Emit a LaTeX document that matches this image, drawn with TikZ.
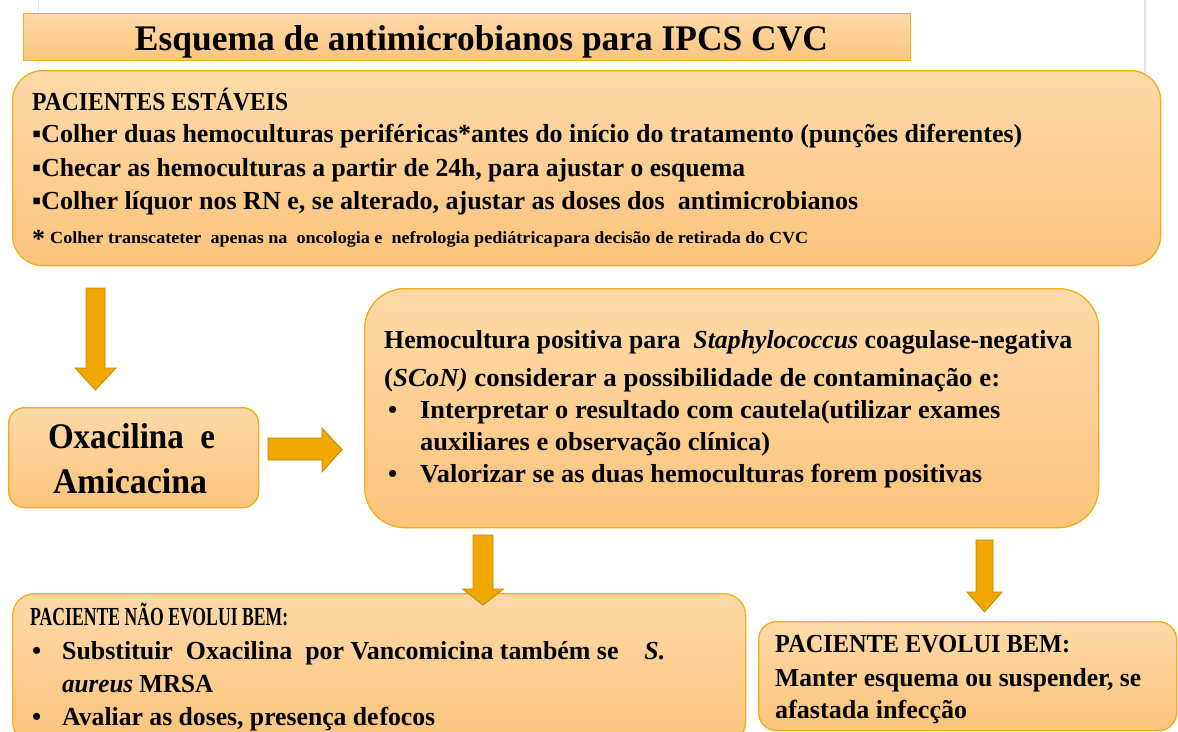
\documentclass[tikz,border=0pt]{standalone}
\usepackage{fontspec}
\setmainfont{Liberation Serif}
\definecolor{boxtop}{RGB}{253,218,168}
\definecolor{boxbot}{RGB}{251,196,124}
\definecolor{boxline}{RGB}{244,172,24}
\definecolor{arrfill}{RGB}{242,166,0}
\definecolor{arrline}{RGB}{188,136,0}
\tikzset{
  softbox/.style={draw=boxline, line width=1.3pt, top color=boxtop, bottom color=boxbot,
    anchor=north west, inner sep=0pt},
  txt/.style={anchor=base west, inner sep=0pt, font=\bfseries\fontsize{26}{30}\selectfont},
  bigtxt/.style={anchor=base, inner sep=0pt, font=\bfseries\fontsize{36}{40}\selectfont},
  smalltxt/.style={anchor=base west, inner sep=0pt, font=\bfseries\fontsize{17}{20}\selectfont},
  blockarrow/.style={draw=arrline, fill=arrfill, line width=0.8pt, line join=miter},
}
% vertical block arrow: x, ytop, ytip, shaft half, head half, head length
\newcommand{\vblock}[6]{%
  \draw[blockarrow] (#1-#4,#2) -- (#1+#4,#2) -- (#1+#4,#3-#6) -- (#1+#5,#3-#6)
    -- (#1,#3) -- (#1-#5,#3-#6) -- (#1-#4,#3-#6) -- cycle;}
\newcommand{\fw}[2]{\resizebox{#1pt}{\height}{#2}}
\begin{document}
\begin{tikzpicture}[x=1pt,y=-1pt]
\useasboundingbox (0,0) rectangle (1178,731);
\clip (0,0) rectangle (1178,731);
% faint page edges
\draw[black!8, line width=1pt] (38,0) -- (38,70);
\draw[black!10, line width=2pt] (1145,0) -- (1145,96);

% ---- boxes
\node[softbox, sharp corners, minimum width=887pt, minimum height=47pt] (title) at (23,13) {};
\node[softbox, rounded corners=30pt, minimum width=1148pt, minimum height=195pt] (est) at (12,70) {};
\node[softbox, rounded corners=16pt, minimum width=250pt, minimum height=100pt] (oxa) at (8,407) {};
\node[softbox, rounded corners=40pt, minimum width=734pt, minimum height=239pt] (scon) at (364,288) {};
\node[softbox, rounded corners=22pt, minimum width=733pt, minimum height=150pt] (nao) at (12,593) {};
\node[softbox, rounded corners=18pt, minimum width=418pt, minimum height=109pt] (bem) at (758,621) {};

% ---- title
\node[bigtxt] (titletext) at (481.5,50) {\fw{693}{Esquema de antimicrobianos para IPCS CVC}};

% ---- box 1 text
\node[txt] (e1) at (32,110) {\fw{256}{PACIENTES ESTÁVEIS}};
\node[txt] (e2) at (32,142) {\fw{990}{▪Colher duas hemoculturas periféricas*antes do início do tratamento (punções diferentes)}};
\node[txt] (e3) at (32,176) {\fw{713}{▪Checar as hemoculturas a partir de 24h, para ajustar o esquema}};
\node[txt] (e4) at (32,209) {\fw{826}{▪Colher líquor nos RN e, se alterado, ajustar as doses dos\ \ antimicrobianos}};
\node[txt] (e5a) at (32,247) {*};
\node[smalltxt] (e5b) at (50,243) {\fw{758}{Colher transcateter\ \ apenas na\ \ oncologia e\ \ nefrologia pediátrica\hspace{1pt}para decisão de retirada do CVC}};

% ---- oxacilina text
\node[bigtxt] (o1) at (131.5,448) {\fw{167}{Oxacilina\ \ e}};
\node[bigtxt] (o2) at (130,493) {\fw{154}{Amicacina}};

% ---- SCoN text
\node[txt] (s1) at (384,348) {\fw{688}{Hemocultura positiva para\ \ \textit{Staphylococcus} coagulase-negativa}};
\node[txt] (s2) at (384,386) {\fw{616}{(\textit{SCoN)} considerar a possibilidade de contaminação e:}};
\node[txt] (sb1) at (388,418) {•};
\node[txt] (s3) at (420,418) {\fw{580}{Interpretar o resultado com cautela(utilizar exames}};
\node[txt] (s4) at (420,450) {\fw{350}{auxiliares e observação clínica)}};
\node[txt] (sb2) at (388,482) {•};
\node[txt] (s5) at (420,482) {\fw{562}{Valorizar se as duas hemoculturas forem positivas}};

% ---- nao evolui text
\node[txt] (n1) at (30,625) {\fw{258}{PACIENTE NÃO EVOLUI BEM:}};
\node[txt] (nb1) at (32,659) {•};
\node[txt] (n2) at (62,659) {\fw{603}{Substituir\ \ Oxacilina\ \ por Vancomicina também se\ \ \ \ \textit{S.}}};
\node[txt] (n3) at (62,692) {\fw{151}{\textit{aureus} MRSA}};
\node[txt] (nb2) at (32,725) {•};
\node[txt] (n4) at (62,725) {\fw{373}{Avaliar as doses, presença de\hspace{1pt}focos}};

% ---- evolui text
\node[txt] (b1) at (775,652) {\fw{295}{PACIENTE EVOLUI BEM:}};
\node[txt] (b2) at (775,686) {\fw{366}{Manter esquema ou suspender, se}};
\node[txt] (b3) at (775,718) {\fw{192}{afastada infecção}};

% ---- arrows
\vblock{95.5}{288}{390}{9.5}{20.5}{22}
\draw[blockarrow] (268,438) -- (322,438) -- (322,428) -- (342,449.5) -- (322,472) -- (322,460) -- (268,460) -- cycle;
\vblock{483}{535}{605}{10}{20.5}{16}
\vblock{984.5}{540}{612}{8.5}{17.5}{20}
\end{tikzpicture}
\end{document}
